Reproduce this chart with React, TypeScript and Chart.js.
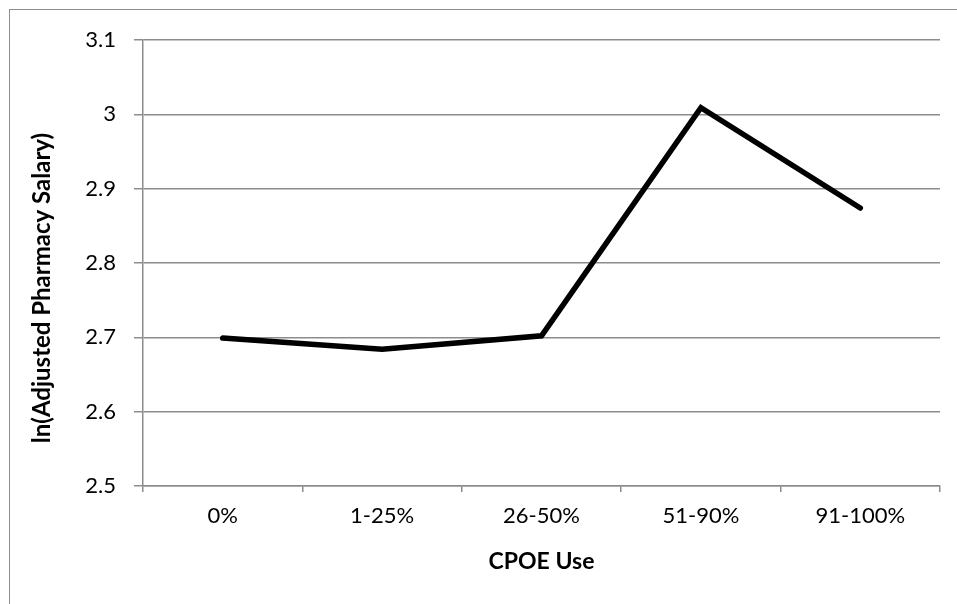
import React, { useEffect, useRef } from "react";
import { Chart, registerables } from "chart.js";

Chart.register(...registerables);

// CPOE adoption categories and log-adjusted pharmacy salary
const categories = ["0%", "1-25%", "26-50%", "51-90%", "91-100%"];
const lnSalary = [2.699, 2.684, 2.702, 3.009, 2.874];
const yMin = 2.5;
const yMax = 3.1;
const yStep = 0.1;
const xTitle = "CPOE Use";
const yTitle = "ln(Adjusted Pharmacy Salary)";

const FONT = "Lato, 'Open Sans', sans-serif";
const GRID = "#8c8c8c";

// Draws the vertical axis title, rotated, at the left of the frame
const yTitlePlugin = {
  id: "yTitleText",
  afterDraw(chart: any) {
    const ctx = chart.ctx;
    ctx.save();
    ctx.translate(42, 288);
    ctx.rotate(-Math.PI / 2);
    ctx.fillStyle = "#000";
    ctx.font = `bold 24px ${FONT}`;
    ctx.textAlign = "center";
    ctx.textBaseline = "middle";
    ctx.fillText(yTitle, 0, 0);
    ctx.restore();
  },
};

export default function App() {
  const canvasRef = useRef<HTMLCanvasElement | null>(null);

  useEffect(() => {
    document.body.style.margin = "0";
    const canvas = canvasRef.current;
    if (!canvas) return;
    const chart = new Chart(canvas, {
      type: "line",
      data: {
        labels: categories,
        datasets: [
          {
            data: lnSalary,
            borderColor: "#000000",
            borderWidth: 5.5,
            pointRadius: 0,
            tension: 0,
            borderCapStyle: "round",
            borderJoinStyle: "miter",
          },
        ],
      },
      plugins: [yTitlePlugin],
      options: {
        animation: false,
        responsive: false,
        maintainAspectRatio: false,
        layout: { padding: { left: 0, top: 40, right: 17, bottom: 0 } },
        plugins: {
          legend: { display: false },
          tooltip: { enabled: false },
        },
        scales: {
          x: {
            type: "category",
            offset: true,
            border: { display: true, color: GRID, width: 1.5 },
            grid: {
              offset: true,
              drawOnChartArea: false,
              drawTicks: true,
              tickLength: 6,
              color: GRID,
              lineWidth: 1.5,
            },
            ticks: {
              color: "#000",
              padding: 11,
              font: { family: FONT, size: 22 },
              maxRotation: 0,
            },
            title: {
              display: true,
              text: xTitle,
              color: "#000",
              font: { family: FONT, size: 23, weight: "bold" },
              padding: { top: 0, bottom: 29 },
            },
            afterFit: (scale: any) => {
              scale.height = 604 - 486;
            },
          },
          y: {
            min: yMin,
            max: yMax,
            border: { display: true, color: GRID, width: 1.5 },
            grid: {
              color: GRID,
              lineWidth: 1.5,
              drawTicks: true,
              tickLength: 9,
            },
            ticks: {
              stepSize: yStep,
              color: "#000",
              padding: 18,
              font: { family: FONT, size: 22 },
              callback: (v: any) => String(Math.round(Number(v) * 10) / 10),
            },
            afterFit: (scale: any) => {
              scale.width = 143;
            },
          },
        },
      },
    });
    return () => chart.destroy();
  }, []);

  return (
    <div style={{ position: "fixed", left: 0, top: 0, width: 957, height: 604, background: "#fff", overflow: "hidden" }}>
      <div
        style={{
          position: "absolute",
          left: 9,
          top: 9,
          width: 1200,
          height: 900,
          border: "1.5px solid #8c8c8c",
        }}
      />
      <canvas ref={canvasRef} width={957} height={604} style={{ position: "absolute", left: 0, top: 0 }} />
    </div>
  );
}
